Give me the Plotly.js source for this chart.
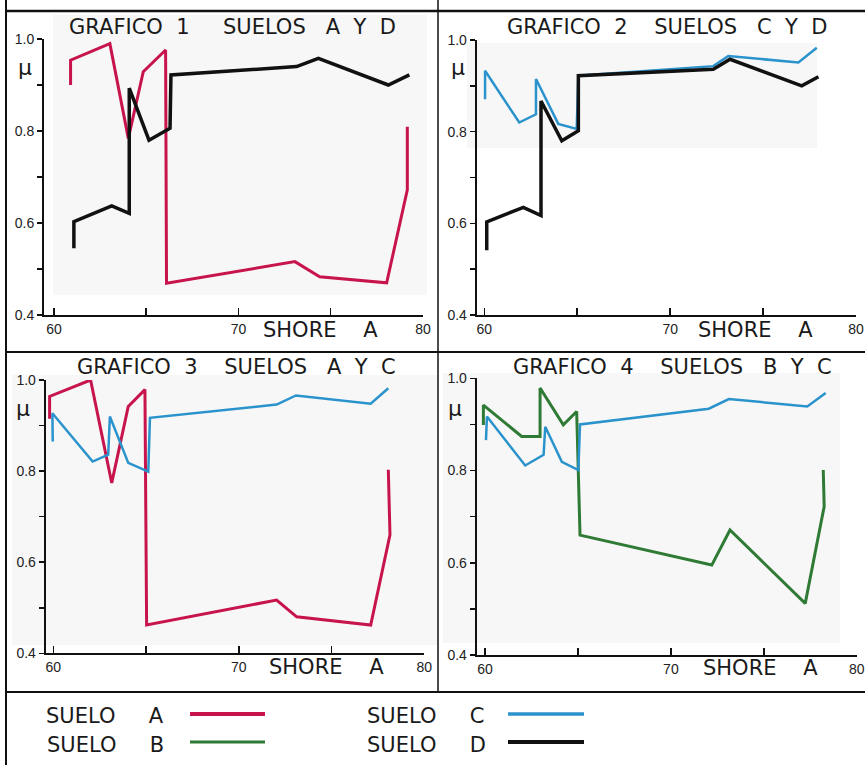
<!DOCTYPE html>
<html>
<head>
<meta charset="utf-8">
<script src="https://cdn.plot.ly/plotly-3.0.1.min.js"></script>
<style>html,body{margin:0;padding:0;background:#fff;}#chart{width:865px;height:765px;}</style>
</head>
<body>
<div id="chart"></div>
<script>
// ---- data ----
const xTickVals = [60, 65, 70, 75, 80];
const xTickText = ['60', '', '70', '', '80'];
const yTickVals = [0.4, 0.5, 0.6, 0.7, 0.8, 0.9, 1.0];
const yTickText = ['0.4', '', '0.6', '', '0.8', '', '1.0'];

// Grafico 1: suelos A y D
const g1_aX = [60.9, 60.9, 63.03, 64.03, 64.84, 66.05, 66.1, 73.06, 74.4, 78.03, 79.15, 79.15];
const g1_aY = [0.900, 0.954, 0.990, 0.784, 0.929, 0.976, 0.469, 0.516, 0.483, 0.470, 0.672, 0.809];
const g1_dX = [61.08, 61.08, 63.13, 64.08, 64.08, 65.15, 66.29, 66.34, 73.15, 74.33, 78.12, 79.26];
const g1_dY = [0.545, 0.603, 0.637, 0.621, 0.893, 0.780, 0.806, 0.922, 0.940, 0.958, 0.900, 0.922];

// Grafico 2: suelos C y D
const g2_cX = [60.04, 60.04, 61.88, 62.78, 62.78, 63.98, 64.97, 65.06, 72.32, 73.13, 76.90, 77.89];
const g2_cY = [0.871, 0.933, 0.820, 0.838, 0.915, 0.817, 0.806, 0.922, 0.943, 0.965, 0.951, 0.983];
const g2_dX = [60.13, 60.13, 62.10, 63.05, 63.05, 64.17, 65.06, 65.06, 72.32, 73.22, 77.08, 77.98];
const g2_dY = [0.541, 0.603, 0.635, 0.617, 0.867, 0.780, 0.802, 0.922, 0.936, 0.958, 0.900, 0.920];

// Grafico 3: suelos A y C
const g3_aX = [59.8, 59.8, 62.01, 63.15, 64.04, 64.94, 65.03, 72.04, 73.12, 77.11, 78.15, 78.06];
const g3_aY = [0.915, 0.964, 1.000, 0.774, 0.942, 0.979, 0.462, 0.517, 0.480, 0.462, 0.660, 0.803];
const g3_cX = [59.97, 59.95, 62.12, 62.96, 63.05, 64.04, 65.12, 65.21, 72.04, 73.08, 77.11, 78.06];
const g3_cY = [0.865, 0.927, 0.821, 0.836, 0.920, 0.818, 0.799, 0.917, 0.946, 0.966, 0.948, 0.982];

// Grafico 4: suelos B y C
const g4_bX = [59.91, 59.91, 61.97, 62.96, 62.96, 64.21, 64.93, 65.11, 72.20, 73.18, 77.23, 78.25, 78.20];
const g4_bY = [0.899, 0.942, 0.874, 0.874, 0.979, 0.899, 0.928, 0.660, 0.595, 0.671, 0.512, 0.722, 0.801];
const g4_cX = [60.05, 60.10, 62.16, 63.15, 63.24, 64.13, 65.02, 65.11, 72.04, 73.12, 77.34, 78.33];
const g4_cY = [0.866, 0.917, 0.811, 0.834, 0.895, 0.819, 0.801, 0.900, 0.934, 0.955, 0.939, 0.968];

const sueloNames = ['SUELO A', 'SUELO B', 'SUELO C', 'SUELO D'];
const titleTexts = [
  'GRAFICO\u00a0\u00a01\u00a0\u00a0\u00a0\u00a0\u00a0SUELOS\u00a0\u00a0\u00a0A\u00a0\u00a0Y\u00a0\u00a0D',
  'GRAFICO\u00a0\u00a02\u00a0\u00a0\u00a0\u00a0SUELOS\u00a0\u00a0\u00a0C\u00a0\u00a0Y\u00a0\u00a0D',
  'GRAFICO\u00a0\u00a03\u00a0\u00a0\u00a0\u00a0SUELOS\u00a0\u00a0\u00a0A\u00a0\u00a0Y\u00a0\u00a0C',
  'GRAFICO\u00a0\u00a04\u00a0\u00a0\u00a0\u00a0SUELOS\u00a0\u00a0\u00a0B\u00a0\u00a0Y\u00a0\u00a0C'
];
const xLabelText = 'SHORE\u00a0\u00a0\u00a0\u00a0A';
const yLabelText = '\u03bc';

// ---- styles ----
const W = 865, H = 765;
const fx = p => p / W;
const fy = p => 1 - p / H;
const colA = '#c8144c', colB = '#2f7a34', colC = '#2b93cc', colD = '#111111';
const FONT = 'DejaVu Sans, Liberation Sans, sans-serif';

const panels = [
  {xd: [44, 423],     xr: [59.46, 80], yd: [315, 39],    title: [233, 27],  mu: [25, 67],  lab: [320, 330]},
  {xd: [476.7, 856],  xr: [59.59, 80], yd: [315, 40],    title: [667, 27],  mu: [458, 67], lab: [755, 330]},
  {xd: [45.7, 424.3], xr: [59.59, 80], yd: [653.3, 380], title: [237, 367], mu: [23, 408], lab: [326, 667]},
  {xd: [476.7, 856.7],xr: [59.55, 80], yd: [655, 378.3], title: [672, 367], mu: [455, 408], lab: [760, 668]}
];

function line(x, y, color, width, k, name) {
  const s = k === 0 ? '' : String(k + 1);
  return {x: x, y: y, type: 'scatter', mode: 'lines', name: name, showlegend: false,
          xaxis: 'x' + s, yaxis: 'y' + s, line: {color: color, width: width}, hoverinfo: 'skip'};
}

const data = [
  line(g1_aX, g1_aY, colA, 3, 0, sueloNames[0]),
  line(g1_dX, g1_dY, colD, 3.5, 0, sueloNames[3]),
  line(g2_cX, g2_cY, colC, 2.5, 1, sueloNames[2]),
  line(g2_dX, g2_dY, colD, 3.5, 1, sueloNames[3]),
  line(g3_aX, g3_aY, colA, 3, 2, sueloNames[0]),
  line(g3_cX, g3_cY, colC, 2.5, 2, sueloNames[2]),
  line(g4_bX, g4_bY, colB, 3, 3, sueloNames[1]),
  line(g4_cX, g4_cY, colC, 2.5, 3, sueloNames[2])
];

const layout = {
  width: W, height: H,
  margin: {l: 0, r: 0, t: 0, b: 0},
  paper_bgcolor: '#ffffff', plot_bgcolor: 'rgba(0,0,0,0)',
  showlegend: false,
  font: {family: FONT, color: '#1a1a1a'},
  annotations: [], shapes: []
};

panels.forEach((p, k) => {
  const s = k === 0 ? '' : String(k + 1);
  layout['xaxis' + s] = {
    domain: [fx(p.xd[0]), fx(p.xd[1])], range: p.xr, anchor: 'y' + s,
    tickmode: 'array', tickvals: xTickVals, ticktext: xTickText,
    ticks: 'inside', ticklen: 7, tickwidth: 1.5, tickcolor: '#111',
    showline: true, linewidth: 2, linecolor: '#111', mirror: false,
    showgrid: false, zeroline: false, fixedrange: true,
    tickfont: {family: 'Liberation Sans, sans-serif', size: 14, color: '#222'}
  };
  layout['yaxis' + s] = {
    domain: [fy(p.yd[0]), fy(p.yd[1])], range: [0.4, 1.0], anchor: 'x' + s,
    tickmode: 'array', tickvals: yTickVals, ticktext: yTickText,
    ticks: 'outside', ticklen: 5, tickwidth: 1.5, tickcolor: '#111',
    showline: true, linewidth: 2, linecolor: '#111',
    showgrid: false, zeroline: false, fixedrange: true,
    tickfont: {family: 'Liberation Sans, sans-serif', size: 14, color: '#222'}
  };
  layout.annotations.push({text: titleTexts[k], x: fx(p.title[0]), y: fy(p.title[1]),
    xref: 'paper', yref: 'paper', xanchor: 'center', yanchor: 'middle', showarrow: false,
    font: {family: FONT, size: 21, color: '#1a1a1a'}});
  layout.annotations.push({text: yLabelText, x: fx(p.mu[0]), y: fy(p.mu[1]),
    xref: 'paper', yref: 'paper', xanchor: 'center', yanchor: 'middle', showarrow: false,
    font: {family: FONT, size: 22, color: '#1a1a1a'}});
  layout.annotations.push({text: xLabelText, x: fx(p.lab[0]), y: fy(p.lab[1]),
    xref: 'paper', yref: 'paper', xanchor: 'center', yanchor: 'middle', showarrow: false,
    font: {family: FONT, size: 21, color: '#1a1a1a'}});
});

// faint grey paper patches behind the plots
const patches = [[53, 15, 427, 295], [467, 43, 817, 148], [12, 375, 437, 645], [443, 373, 840, 643]];
patches.forEach(r => layout.shapes.push({type: 'rect', xref: 'paper', yref: 'paper', layer: 'below',
  x0: fx(r[0]), x1: fx(r[2]), y0: fy(r[3]), y1: fy(r[1]), fillcolor: '#f7f7f7', line: {width: 0}}));

// frame lines
const frame = [[6, 0, 6, 765, 2], [6, 11, 865, 11, 2.5], [438, 0, 438, 692, 1.5], [6, 352, 865, 352, 2], [6, 692, 865, 692, 2]];
frame.forEach(f => layout.shapes.push({type: 'line', xref: 'paper', yref: 'paper',
  x0: fx(f[0]), y0: fy(f[1]), x1: fx(f[2]), y1: fy(f[3]), line: {color: '#111', width: f[4]}}));

// legend block
const legendItems = [
  {name: sueloNames[0], color: colA, width: 4, tx: 105, ty: 716, lx: [190, 265], ly: 714},
  {name: sueloNames[1], color: colB, width: 3, tx: 105, ty: 745, lx: [190, 265], ly: 742},
  {name: sueloNames[2], color: colC, width: 3.5, tx: 426, ty: 716, lx: [508, 584], ly: 714},
  {name: sueloNames[3], color: colD, width: 4, tx: 426, ty: 745, lx: [508, 584], ly: 742}
];
legendItems.forEach(it => {
  layout.annotations.push({text: it.name.replace(' ', '\u00a0\u00a0\u00a0\u00a0\u00a0'), x: fx(it.tx), y: fy(it.ty),
    xref: 'paper', yref: 'paper', xanchor: 'center', yanchor: 'middle', showarrow: false,
    font: {family: FONT, size: 21, color: '#1a1a1a'}});
  layout.shapes.push({type: 'line', xref: 'paper', yref: 'paper',
    x0: fx(it.lx[0]), x1: fx(it.lx[1]), y0: fy(it.ly), y1: fy(it.ly), line: {color: it.color, width: it.width}});
});

Plotly.newPlot('chart', data, layout, {displayModeBar: false, staticPlot: true});
</script>
</body>
</html>
